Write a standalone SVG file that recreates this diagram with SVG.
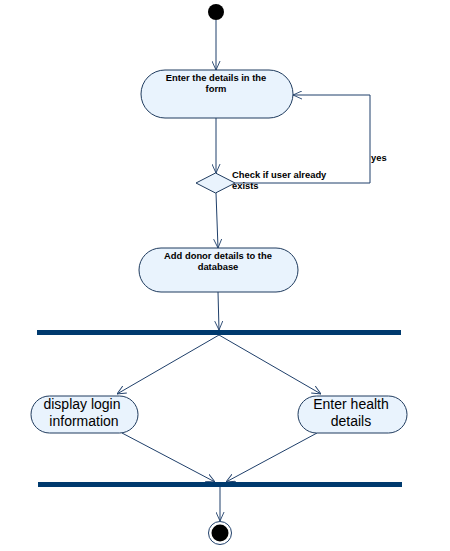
<svg xmlns="http://www.w3.org/2000/svg" width="450" height="551" viewBox="0 0 450 551">
<style>
.act{fill:#e9f3fd;stroke:#1f3b5e;stroke-width:1}
.edge{fill:none;stroke:#1f3f6a;stroke-width:1}
.bar{fill:#003a6e}
.sm{font-family:"Liberation Sans",Arial,sans-serif;font-size:9.4px;font-weight:bold;fill:#000}
.lg{font-family:"Liberation Sans",Arial,sans-serif;font-size:14px;fill:#000}
</style>
<defs>
<marker id="arr" viewBox="0 0 10 10" refX="10" refY="5" markerWidth="9" markerHeight="9" orient="auto" markerUnits="userSpaceOnUse">
<path d="M0,0.5 L10,5 L0,9.5" fill="none" stroke="#1f3f6a" stroke-width="1"/>
</marker>
</defs>
<rect width="450" height="551" fill="#fff"/>
<g id="connectors">
<line class="edge" x1="216" y1="20" x2="216" y2="70" marker-end="url(#arr)"/>
<line class="edge" x1="216" y1="118" x2="216" y2="173" marker-end="url(#arr)"/>
<polyline class="edge" points="235,183 370,183 370,95 293,95" marker-end="url(#arr)"/>
<line class="edge" x1="216" y1="193" x2="218" y2="248" marker-end="url(#arr)"/>
<line class="edge" x1="218" y1="292" x2="219" y2="330" marker-end="url(#arr)"/>
<line class="edge" x1="219" y1="335" x2="117" y2="394" marker-end="url(#arr)"/>
<line class="edge" x1="219" y1="335" x2="321" y2="394" marker-end="url(#arr)"/>
<line class="edge" x1="122" y1="433" x2="215" y2="482" marker-end="url(#arr)"/>
<line class="edge" x1="317" y1="433" x2="226" y2="482" marker-end="url(#arr)"/>
<line class="edge" x1="220" y1="487" x2="220" y2="521" marker-end="url(#arr)"/>
<text class="sm" x="371" y="161">yes</text>
</g>
<g id="start"><circle cx="216" cy="12" r="8" fill="#000"/></g>
<g id="enterDetails">
<rect class="act" x="141" y="70" width="152" height="48" rx="24" ry="24"/>
<text class="sm" x="216" y="81" text-anchor="middle">Enter the details in the</text>
<text class="sm" x="216" y="92" text-anchor="middle">form</text>
</g>
<g id="checkUser">
<polygon class="act" points="196,183 215.5,173 235,183 215.5,193"/>
<text class="sm" x="232" y="178">Check if user already</text>
<text class="sm" x="232" y="189">exists</text>
</g>
<g id="addDonor">
<rect class="act" x="139" y="248" width="159" height="44" rx="22" ry="22"/>
<text class="sm" x="218" y="259" text-anchor="middle">Add donor details to the</text>
<text class="sm" x="218" y="270" text-anchor="middle">database</text>
</g>
<g id="fork"><rect class="bar" x="37" y="330" width="364" height="5"/></g>
<g id="displayLogin">
<rect class="act" x="31" y="396" width="107" height="37" rx="18.5" ry="18.5"/>
<text class="lg" x="82" y="409" text-anchor="middle">display login</text>
<text class="lg" x="84" y="426" text-anchor="middle">information</text>
</g>
<g id="enterHealth">
<rect class="act" x="298" y="396" width="109" height="37" rx="18.5" ry="18.5"/>
<text class="lg" x="351" y="409" text-anchor="middle">Enter health</text>
<text class="lg" x="351" y="426" text-anchor="middle">details</text>
</g>
<g id="join"><rect class="bar" x="38" y="482" width="364" height="5"/></g>
<g id="end">
<circle cx="220" cy="533" r="11.5" fill="#fff" stroke="#1f3f6a" stroke-width="1"/>
<circle cx="220" cy="533" r="8.5" fill="#000"/>
</g>
</svg>
